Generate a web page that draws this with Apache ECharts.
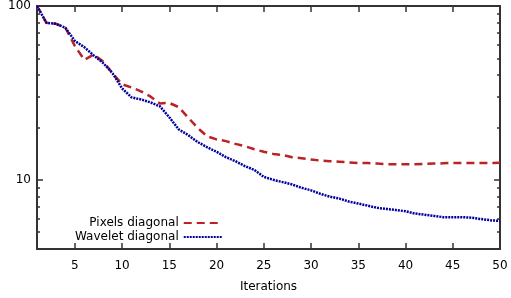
<!DOCTYPE html>
<html>
<head>
<meta charset="utf-8">
<style>
  html, body { margin: 0; padding: 0; background: #fff; }
  #chart { width: 511px; height: 298px; }
</style>
<script src="https://cdn.jsdelivr.net/npm/echarts@6/dist/echarts.min.js"></script>
</head>
<body>
<div id="chart"></div>
<script>
const iterations = [
  1, 2, 3, 4, 5, 6, 7, 8, 9, 10, 11, 12, 13, 14, 15, 16, 17, 18, 19, 20, 21, 22, 23, 24, 25,
  26, 27, 28, 29, 30, 31, 32, 33, 34, 35, 36, 37, 38, 39, 40, 41, 42, 43, 44, 45, 46, 47, 48, 49, 50,
];
const pixelsDiagonal = [
  100, 80, 79, 75, 59, 49, 52.5, 48, 41, 35.5, 34, 32.3, 30.2, 27.5, 27.7, 26.2, 22.8, 19.9, 17.8, 17.1,
  16.7, 16.1, 15.6, 15.0, 14.5, 14.1, 13.9, 13.5, 13.3, 13.1, 12.9, 12.8, 12.7, 12.6, 12.5, 12.5, 12.4,
  12.3, 12.3, 12.3, 12.3, 12.35, 12.4, 12.45, 12.5, 12.5, 12.5, 12.5, 12.5, 12.55,
];
const waveletDiagonal = [
  100, 80, 79, 75, 63, 58, 52, 47, 41, 33.6, 29.8, 29, 27.9, 26.5, 22.9, 19.5, 18.1, 16.5, 15.4, 14.5,
  13.5, 12.8, 12.0, 11.4, 10.4, 10.0, 9.7, 9.4, 9.0, 8.7, 8.3, 8.0, 7.8, 7.5, 7.3, 7.1, 6.9, 6.8,
  6.7, 6.6, 6.4, 6.3, 6.2, 6.1, 6.1, 6.1, 6.05, 5.95, 5.85, 5.8,
];
const xTicks = [5, 10, 15, 20, 25, 30, 35, 40, 45, 50];
const yMajorTicks = [10, 100];
const yMinorTicks = [4, 5, 6, 7, 8, 9, 20, 30, 40, 50, 60, 70, 80, 90];

const FONT = 'DejaVu Sans';
const frame = { show: true, lineStyle: { color: '#333', width: 2 } };

const chart = echarts.init(document.getElementById('chart'));

const yAxisBase = {
  type: 'log',
  logBase: 10,
  min: 4,
  max: 100,
  splitLine: { show: false },
  minorTick: { show: false },
};

chart.setOption({
  animation: false,
  textStyle: { fontFamily: FONT },
  grid: { left: 37, right: 11, top: 5, bottom: 49 },
  legend: {
    orient: 'vertical',
    left: 70,
    top: 212,
    align: 'right',
    itemWidth: 38,
    itemHeight: 12,
    itemGap: 2,
    itemStyle: { opacity: 0 },
    textStyle: { fontFamily: FONT, fontSize: 12, color: '#000' },
    data: ['Pixels diagonal', 'Wavelet diagonal'],
  },
  xAxis: [
    {
      type: 'value',
      min: 1,
      max: 50,
      name: 'Iterations',
      nameLocation: 'middle',
      nameGap: 32,
      nameTextStyle: { fontFamily: FONT, fontSize: 12, color: '#000' },
      axisLine: frame,
      axisTick: { inside: true, length: 6, customValues: xTicks, lineStyle: { color: '#333', width: 1.5 } },
      axisLabel: { customValues: xTicks, margin: 11, fontFamily: FONT, fontSize: 12, color: '#000' },
      splitLine: { show: false },
    },
    {
      type: 'value',
      position: 'top',
      min: 1,
      max: 50,
      axisLine: frame,
      axisTick: { inside: true, length: 6, customValues: xTicks, lineStyle: { color: '#333', width: 1.5 } },
      axisLabel: { show: false },
      splitLine: { show: false },
    },
  ],
  yAxis: [
    {
      ...yAxisBase,
      position: 'left',
      axisLine: frame,
      axisTick: { inside: true, length: 6, customValues: yMajorTicks, lineStyle: { color: '#333', width: 1.5 } },
      axisLabel: { customValues: yMajorTicks, margin: 6, fontFamily: FONT, fontSize: 12, color: '#000' },
    },
    {
      ...yAxisBase,
      position: 'left',
      axisLine: { show: false },
      axisTick: { inside: true, length: 3, customValues: yMinorTicks, lineStyle: { color: '#333', width: 1.5 } },
      axisLabel: { show: false },
    },
    {
      ...yAxisBase,
      position: 'right',
      axisLine: frame,
      axisTick: { inside: true, length: 6, customValues: yMajorTicks, lineStyle: { color: '#333', width: 1.5 } },
      axisLabel: { show: false },
    },
    {
      ...yAxisBase,
      position: 'right',
      axisLine: { show: false },
      axisTick: { inside: true, length: 3, customValues: yMinorTicks, lineStyle: { color: '#333', width: 1.5 } },
      axisLabel: { show: false },
    },
  ],
  series: [
    {
      name: 'Pixels diagonal',
      type: 'line',
      symbol: 'none',
      xAxisIndex: 0,
      yAxisIndex: 0,
      data: iterations.map((it, i) => [it, pixelsDiagonal[i]]),
      lineStyle: { color: '#bb2225', width: 2.5, type: [8, 5] },
      itemStyle: { color: '#bb2225' },
    },
    {
      name: 'Wavelet diagonal',
      type: 'line',
      symbol: 'none',
      xAxisIndex: 0,
      yAxisIndex: 0,
      data: iterations.map((it, i) => [it, waveletDiagonal[i]]),
      lineStyle: { color: '#0000a0', width: 2.5, type: [2, 1] },
      itemStyle: { color: '#0000a0' },
    },
  ],
});

window.addEventListener('resize', () => chart.resize());
</script>
</body>
</html>
